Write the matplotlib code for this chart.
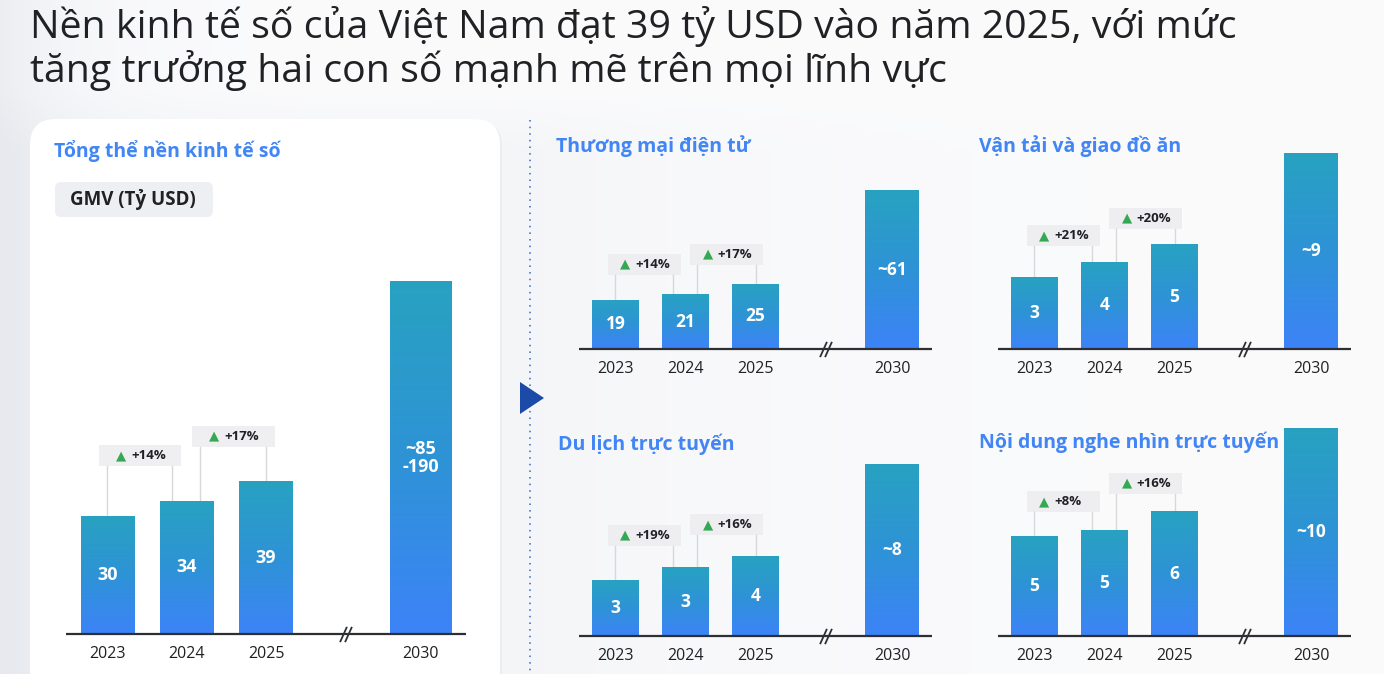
import numpy as np
import matplotlib
matplotlib.use("Agg")
import matplotlib.pyplot as plt
import matplotlib.transforms as mtransforms
from matplotlib.patches import FancyBboxPatch, Polygon
from matplotlib.colors import LinearSegmentedColormap, to_rgb

# ---------------- data ----------------
title_lines = ["Nền kinh tế số của Việt Nam đạt 39 tỷ USD vào năm 2025, với mức",
               "tăng trưởng hai con số mạnh mẽ trên mọi lĩnh vực"]
years = ["2023", "2024", "2025", "2030"]
unit_label = "GMV (Tỷ USD)"

total_title = "Tổng thể nền kinh tế số"
total_vals = [30, 34, 39, 90]
total_labels = ["30", "34", "39", "~85\n-190"]
total_growth = ["+14%", "+17%"]

ecom_title = "Thương mại điện tử"
ecom_vals = [19, 21, 25, 61]
ecom_labels = ["19", "21", "25", "~61"]
ecom_growth = ["+14%", "+17%"]

transport_title = "Vận tải và giao đồ ăn"
transport_vals = [3.3, 4.0, 4.8, 9.0]
transport_labels = ["3", "4", "5", "~9"]
transport_growth = ["+21%", "+20%"]

travel_title = "Du lịch trực tuyến"
travel_vals = [2.6, 3.2, 3.7, 8.0]
travel_labels = ["3", "3", "4", "~8"]
travel_growth = ["+19%", "+16%"]

video_title = "Nội dung nghe nhìn trực tuyến"
video_vals = [4.8, 5.1, 6.0, 10.0]
video_labels = ["5", "5", "6", "~10"]
video_growth = ["+8%", "+16%"]

# ---------------- style ----------------
W, H = 1384, 674
FONT = ["Open Sans", "DejaVu Sans"]
plt.rcParams["font.family"] = FONT
BLUE_T = "#4285f4"
DARK = "#202124"
GREEN = "#34a853"
cmap_bar = LinearSegmentedColormap.from_list("bar", ["#3d83f8", "#2e93d6", "#28a2c1"])

fig = plt.figure(figsize=(W / 100, H / 100), dpi=100)

# background axes in pixel coordinates
bg = fig.add_axes([0, 0, 1, 1])
bg.set_xlim(0, W)
bg.set_ylim(H, 0)
bg.axis("off")

xx = np.linspace(0, W, 500)
yy = np.linspace(0, H, 250)
X, Y = np.meshgrid(xx, yy)
ramp_y = np.clip((Y - 90) / 60.0, 0, 1)
w = (0.7 * np.exp(-X / 70.0)
     + 0.3 * np.exp(-np.maximum(X - 500, 0) / 220.0) * ramp_y
     + 0.07)
w = np.clip(w, 0, 1)
c_dark = np.array(to_rgb("#e6e9ee"))
c_light = np.array(to_rgb("#fcfcfd"))
img = c_light[None, None, :] * (1 - w[..., None]) + c_dark[None, None, :] * w[..., None]
bg.imshow(img, extent=[0, W, H, 0], aspect="auto", zorder=0)

# left white panel
bg.add_patch(FancyBboxPatch((32, 121), 470, 600, boxstyle="round,pad=0,rounding_size=26",
                            facecolor="#e9ecf0", edgecolor="none", zorder=1))
bg.add_patch(FancyBboxPatch((30, 119), 470, 600, boxstyle="round,pad=0,rounding_size=26",
                            facecolor="white", edgecolor="none", zorder=2))

# title
bg.text(30, 38, title_lines[0], fontsize=28.3, color=DARK, va="baseline", ha="left", zorder=5)
bg.text(30, 82, title_lines[1], fontsize=28.3, color=DARK, va="baseline", ha="left", zorder=5)

# GMV pill
bg.add_patch(FancyBboxPatch((55, 182), 158, 35, boxstyle="round,pad=0,rounding_size=6",
                            facecolor="#eeeff2", edgecolor="none", zorder=3))
bg.text(133, 200, unit_label, fontsize=13.5, fontweight="bold", color=DARK,
        ha="center", va="center", zorder=4)

# dotted divider & arrow
bg.plot([530, 530], [120, H], color="#5b86d6", lw=1.4, linestyle=(0, (0.8, 2.6)), zorder=3)
bg.add_patch(Polygon([(520, 382), (520, 414), (544, 398)], closed=True,
                     facecolor="#1b4aa8", edgecolor="none", zorder=4))

# panel titles
bg.text(54, 157, total_title, fontsize=14, fontweight="bold", color=BLUE_T, va="baseline", zorder=5)
bg.text(556, 152, ecom_title, fontsize=14, fontweight="bold", color=BLUE_T, va="baseline", zorder=5)
bg.text(979, 152, transport_title, fontsize=14, fontweight="bold", color=BLUE_T, va="baseline", zorder=5)
bg.text(558, 450, travel_title, fontsize=14, fontweight="bold", color=BLUE_T, va="baseline", zorder=5)
bg.text(979, 448, video_title, fontsize=14, fontweight="bold", color=BLUE_T, va="baseline", zorder=5)

POS = [0, 1, 2, 3.95]
WID = [0.67, 0.67, 0.67, 0.77]
XL = (-0.52, 4.52)
grad = np.linspace(0, 1, 256).reshape(-1, 1)


def panel(vals, labels, growth, x0, x1, ybase, ppu, goff, vsize=12.5):
    top = 95
    ax = fig.add_axes([x0 / W, 1 - ybase / H, (x1 - x0) / W, (ybase - top) / H])
    ax.patch.set_alpha(0)
    for s in ax.spines.values():
        s.set_visible(False)
    ax.set_xticks([])
    ax.set_yticks([])
    ymax = (ybase - top) / ppu
    px = 1.0 / ppu  # one pixel in data units

    bars = ax.bar(POS, vals, width=WID, color="none", edgecolor="none", zorder=3)
    for b in bars:
        bx, by = b.get_x(), b.get_y()
        im = ax.imshow(grad, extent=[bx, bx + b.get_width(), by, by + b.get_height()],
                       origin="lower", cmap=cmap_bar, aspect="auto", zorder=2)
        im.set_clip_path(b)

    for p, v, lab in zip(POS, vals, labels):
        ax.text(p, v / 2, lab, color="white", fontsize=vsize, fontweight="bold",
                ha="center", va="center", linespacing=1.0, zorder=5)

    # baseline + break mark
    ax.plot(XL, [0, 0], color="#2d2f33", lw=1.6, clip_on=False, zorder=4, solid_capstyle="butt")
    for dx in (-2.8, 2.8):
        ax.plot([3.0], [0], marker=[(-0.45, -1), (0.45, 1)], markersize=11,
                markeredgecolor="#2d2f33", markeredgewidth=1.3, linestyle="none",
                transform=ax.transData + mtransforms.ScaledTranslation(dx / 100.0, 0, fig.dpi_scale_trans),
                clip_on=False, zorder=4)

    # year labels
    for p, yr in zip(POS, years):
        ax.annotate(yr, xy=(p, 0), xytext=(0, -20 * 0.72), textcoords="offset points",
                    ha="center", va="center", fontsize=11.5, color=DARK)

    # growth labels
    specs = [(0.0, 0.82), (1.17, 2.0)]
    for i, (g, (la, lb)) in enumerate(zip(growth, specs)):
        htop = max(vals[i], vals[i + 1])
        yc = htop + goff * px
        yb = yc - 10.5 * px
        bx0, bx1 = la - 0.1, lb + 0.11
        ax.add_patch(FancyBboxPatch((bx0, yb), bx1 - bx0, 21 * px,
                                    boxstyle="square,pad=0", facecolor="#ececef",
                                    edgecolor="none", alpha=0.8, zorder=1))
        ax.plot([la, la], [vals[i], yb], color="#d6d8dc", lw=1, zorder=1)
        ax.plot([lb, lb], [vals[i + 1], yb], color="#d6d8dc", lw=1, zorder=1)
        cx = (bx0 + bx1) / 2
        ax.annotate("▲", xy=(cx, yc), xytext=(-19 * 0.72, 0), textcoords="offset points",
                    ha="center", va="center", fontsize=9.5, color=GREEN, family=["DejaVu Sans"])
        ax.annotate(g, xy=(cx, yc), xytext=(-9 * 0.72, 0), textcoords="offset points",
                    ha="left", va="center", fontsize=9.5, fontweight="bold", color=DARK)

    ax.set_xlim(*XL)
    ax.set_ylim(0, ymax)
    return ax


panel(total_vals, total_labels, total_growth, 66, 466, 634, 3.92, 45, vsize=13)
panel(ecom_vals, ecom_labels, ecom_growth, 579, 932, 349, 2.6, 30)
panel(transport_vals, transport_labels, transport_growth, 998, 1351, 349, 21.8, 26)
panel(travel_vals, travel_labels, travel_growth, 579, 932, 636, 21.5, 32)
panel(video_vals, video_labels, video_growth, 998, 1351, 636, 20.8, 28)

fig.savefig("out.png", dpi=100)
